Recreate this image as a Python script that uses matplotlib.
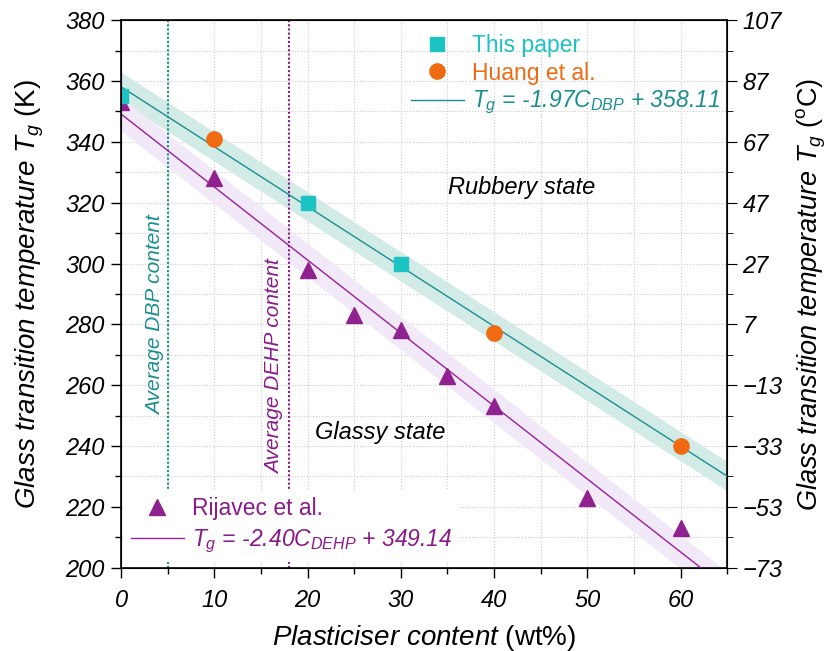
import numpy as np
import matplotlib
matplotlib.use('Agg')
import matplotlib.pyplot as plt
from matplotlib.ticker import MultipleLocator

plt.rcParams['font.family'] = ['Liberation Sans', 'DejaVu Sans']
plt.rcParams['mathtext.fontset'] = 'custom'
plt.rcParams['mathtext.rm'] = 'Liberation Sans'
plt.rcParams['mathtext.it'] = 'Liberation Sans:italic'

# data
this_paper_x = [0, 20, 30]
this_paper_tg = [355, 320, 300]
huang_x = [10, 40, 60]
huang_tg = [341, 277, 240]
rijavec_x = [0, 10, 20, 25, 30, 35, 40, 50, 60]
rijavec_tg = [353, 328, 298, 283, 278, 263, 253, 223, 213]

# fitted lines (from the equations shown)
dbp_slope, dbp_icpt = -1.97, 358.11
dehp_slope, dehp_icpt = -2.40, 349.14
dbp_band = 4.8
dehp_band = 5.5
avg_dbp = 5
avg_dehp = 18

teal = '#1a8f8f'
cyan = '#1cc3c3'
orange = '#f06a12'
purple = '#8a1a8a'

fig = plt.figure(figsize=(8.35, 6.51), dpi=100)
ax = fig.add_axes([0.145, 0.128, 0.726, 0.841])

xx = np.linspace(0, 65, 200)
ax.fill_between(xx, dbp_icpt + dbp_slope * xx - dbp_band, dbp_icpt + dbp_slope * xx + dbp_band,
                color='#d3ebe7', lw=0, zorder=1)
ax.fill_between(xx, dehp_icpt + dehp_slope * xx - dehp_band, dehp_icpt + dehp_slope * xx + dehp_band,
                color='#f1e9f8', lw=0, zorder=1)
ax.axvline(avg_dbp, color=teal, ls=(0, (1, 1)), lw=1.5, zorder=2)
ax.axvline(avg_dehp, color=purple, ls=(0, (1, 1)), lw=1.5, zorder=2)
l_dbp, = ax.plot(xx, dbp_icpt + dbp_slope * xx, color=teal, lw=1, zorder=3)
l_dehp, = ax.plot(xx, dehp_icpt + dehp_slope * xx, color='#991f99', lw=1, zorder=3)

h_tp, = ax.plot(this_paper_x, this_paper_tg, 's', color=cyan, ms=10, zorder=5, ls='none')
h_hu, = ax.plot(huang_x, huang_tg, 'o', color=orange, ms=11, zorder=5, ls='none')
h_ri, = ax.plot(rijavec_x, rijavec_tg, '^', color='#8f228f', ms=12, zorder=4, ls='none')

ax.set_xlim(0, 65)
ax.set_ylim(200, 380)
ax.xaxis.set_major_locator(MultipleLocator(10))
ax.xaxis.set_minor_locator(MultipleLocator(5))
ax.yaxis.set_major_locator(MultipleLocator(20))
ax.yaxis.set_minor_locator(MultipleLocator(10))
ax.grid(True, which='both', color='#cccccc', ls=':', lw=0.8, zorder=0)
ax.set_axisbelow(True)
ax.tick_params(which='both', direction='out', labelsize=17, width=1)
ax.tick_params(which='major', length=7)
ax.tick_params(which='minor', length=4)
ax.tick_params(axis='x', which='major', pad=8)
ax.tick_params(axis='y', which='major', pad=5)
for lab in ax.get_xticklabels() + ax.get_yticklabels():
    lab.set_style('italic')
for sp in ax.spines.values():
    sp.set_linewidth(1.2)

# right axis in degC
ax2 = ax.twinx()
ax2.set_ylim(200 - 273, 380 - 273)
ax2.set_yticks(np.arange(-73, 108, 20))
ax2.set_yticks(np.arange(-63, 108, 20), minor=True)
ax2.tick_params(which='both', direction='out', labelsize=17)
ax2.tick_params(which='major', length=7, pad=4)
ax2.tick_params(which='minor', length=4)
for lab in ax2.get_yticklabels():
    lab.set_style('italic')

ax.set_xlabel(r'$\mathit{Plasticiser\ content}$ (wt%)', fontsize=20, labelpad=8)
ax.set_ylabel(r'$\mathit{Glass\ transition\ temperature\ T_g}$ (K)', fontsize=20, labelpad=14)
ax2.set_ylabel(r'$\mathit{Glass\ transition\ temperature\ T_g}$ ($^{\rm o}$C)', fontsize=19.5, labelpad=9)

ax.text(3.65, 283, 'Average DBP content', rotation=90, color=teal, fontsize=15,
        style='italic', ha='center', va='center')
ax.text(16.5, 266, 'Average DEHP content', rotation=90, color=purple, fontsize=15,
        style='italic', ha='center', va='center')
ax.text(43.0, 325, 'Rubbery state', fontsize=17, style='italic', ha='center', va='center')
ax.text(27.8, 244.5, 'Glassy state', fontsize=17, style='italic', ha='center', va='center')

leg1 = ax.legend([h_tp, h_hu, l_dbp],
                 ['This paper', 'Huang et al.', r'$T_g$ = -1.97$C_{DBP}$ + 358.11'],
                 loc='upper right', bbox_to_anchor=(1.01, 1.0), frameon=False, fontsize=16.5,
                 handlelength=2.3, handletextpad=0.35, labelspacing=0.2, borderaxespad=0.2)
for t, c in zip(leg1.get_texts(), [cyan, orange, teal]):
    t.set_color(c)
leg1.get_texts()[2].set_style('italic')
leg1.set_zorder(10)
ax.add_artist(leg1)

leg2 = ax.legend([h_ri, l_dehp],
                 ['Rijavec et al.', r'$T_g$ = -2.40$C_{DEHP}$ + 349.14'],
                 loc='lower left', bbox_to_anchor=(0.005, 0.01), frameon=True, fontsize=16.5,
                 handlelength=2.3, handletextpad=0.35, labelspacing=0.35,
                 facecolor='white', edgecolor='none', framealpha=1, fancybox=False,
                 borderaxespad=0.0, borderpad=0.3)
for t in leg2.get_texts():
    t.set_color(purple)
leg2.get_texts()[1].set_style('italic')
leg2.set_zorder(10)

fig.savefig('out.png', dpi=100)
